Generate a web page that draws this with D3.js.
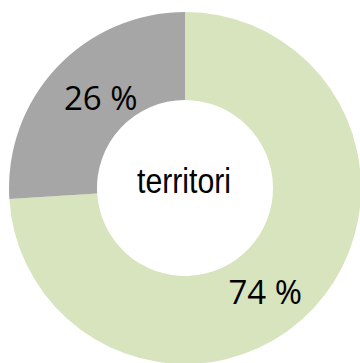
<!DOCTYPE html>
<html>
<head>
<meta charset="utf-8">
<script src="https://cdn.jsdelivr.net/npm/d3@7"></script>
<style>
  html, body { margin: 0; padding: 0; background: #fff; }
  svg { display: block; }
</style>
</head>
<body>
<svg id="chart" width="360" height="363"></svg>
<script>
// Share of the total, in percent
const categories = ["territori", "altres"];
const values = [74, 26];
const labels = ["74 %", "26 %"];
const colors = ["#d7e4bd", "#a6a6a6"];
const centerTitle = "territori";

const svg = d3.select("#chart");
const cx = 185, cy = 188;
const outerR = 176, innerR = 88;

const g = svg.append("g").attr("transform", `translate(${cx},${cy})`);

const pie = d3.pie().sort(null).value(d => d);
const arcs = pie(values);
const arc = d3.arc().innerRadius(innerR).outerRadius(outerR);

g.selectAll("path.slice")
  .data(arcs)
  .join("path")
  .attr("class", "slice")
  .attr("d", arc)
  .attr("fill", (d, i) => colors[i]);

// Value labels sit inside the ring, nudged a little off each slice's middle angle
const labelShift = [{ da: 9, r: 131 }, { da: 4, r: 124 }];
g.selectAll("text.val")
  .data(arcs)
  .join("text")
  .attr("class", "val")
  .attr("transform", (d, i) => {
    const mid = (d.startAngle + d.endAngle) / 2 + labelShift[i].da * Math.PI / 180;
    const r = labelShift[i].r;
    return `translate(${Math.sin(mid) * r},${-Math.cos(mid) * r})`;
  })
  .attr("text-anchor", "middle")
  .attr("dominant-baseline", "central")
  .attr("font-family", "'Open Sans', sans-serif")
  .attr("font-size", 33)
  .attr("fill", "#000")
  .text((d, i) => labels[i]);

g.append("text")
  .attr("x", -1)
  .attr("y", 5)
  .attr("text-anchor", "middle")
  .attr("font-family", "'Liberation Sans Narrow', 'Arial Narrow', 'Liberation Sans', sans-serif")
  .attr("font-size", 35)
  .attr("textLength", 94)
  .attr("lengthAdjust", "spacingAndGlyphs")
  .attr("fill", "#000")
  .text(centerTitle);
</script>
</body>
</html>
